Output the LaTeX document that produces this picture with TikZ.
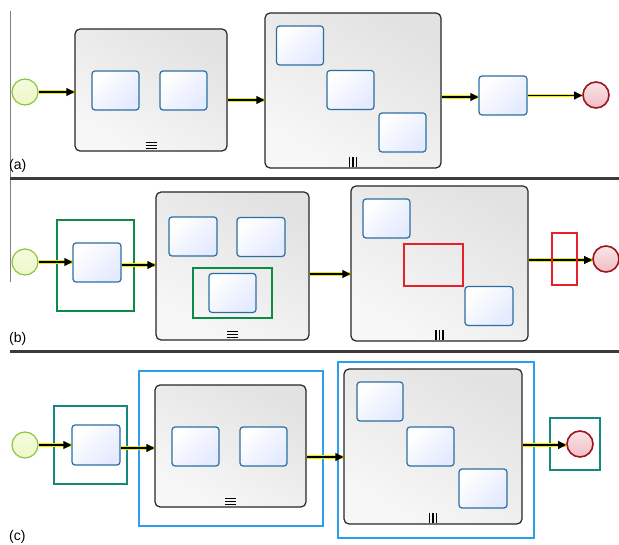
\documentclass[tikz,border=0pt]{standalone}
\usepackage{fontspec}
\setmainfont{Liberation Sans}
\usetikzlibrary{arrows.meta}
\definecolor{taskblue}{RGB}{44,110,160}
\definecolor{taskfill}{RGB}{228,234,255}
\definecolor{subgray}{RGB}{226,226,226}
\definecolor{startgreen}{RGB}{140,198,62}
\definecolor{startfill}{RGB}{238,248,200}
\definecolor{endred}{RGB}{160,20,30}
\definecolor{endfill}{RGB}{240,190,196}
\definecolor{flowyellow}{RGB}{236,236,0}
\definecolor{boxgreen}{RGB}{10,140,70}
\definecolor{boxred}{RGB}{232,32,42}
\definecolor{boxblue}{RGB}{42,160,236}
\definecolor{boxteal}{RGB}{20,136,126}
\definecolor{sepgray}{RGB}{60,60,60}
\newcommand{\seqmark}[1]{\foreach \dy in {3,6,9}{\draw[line width=1.3pt] ([shift={(-5.5,-\dy)}]#1.south) -- ++(11,0);}}
\newcommand{\parmark}[1]{\foreach \dx in {-3.5,0,3.5}{\draw[line width=1.6pt] ([shift={(\dx,-2)}]#1.south) -- ++(0,-10);}}
\tikzset{
  task/.style={draw=taskblue, line width=1.2pt, rounded corners=3pt, top color=white, bottom color=taskfill, shading angle=45, minimum width=47pt, minimum height=39pt, inner sep=0pt},
  subproc/.style={draw=black!85, line width=1.2pt, rounded corners=5pt, top color=subgray, bottom color=white!97!black, shading angle=-30, inner sep=0pt},
  startev/.style={circle, draw=startgreen, line width=1.2pt, top color=startfill!60, bottom color=startfill, minimum size=26pt, inner sep=0pt},
  endev/.style={circle, draw=endred, line width=1.6pt, top color=endfill!40, bottom color=endfill, minimum size=26pt, inner sep=0pt},
  hilite/.style={draw=#1, line width=1.6pt, inner sep=0pt},
  flow/.style={preaction={draw=flowyellow, line width=3.8pt, -}, draw=black, line width=1.2pt, -{Triangle[length=8pt,width=8pt]}},
  sep/.style={draw=sepgray, line width=3pt},
  lbl/.style={anchor=west, inner sep=0pt, font=\fontsize{14}{16}\selectfont}
}
\begin{document}
\begin{tikzpicture}[x=1pt,y=-1pt]
\useasboundingbox (0,0) rectangle (619,545);
\draw[gray, line width=1pt] (10,11) -- (10,179);
\draw[gray, line width=1pt] (10,179) -- (10,282);
\draw[sep] (10,179) -- (619,179);
\draw[sep] (10,352) -- (619,352);
% (a)
\node[startev] (sa) at (25,92) {};
\node[subproc, minimum width=152pt, minimum height=122pt] (suba1) at (151,90) {};
\node[task] (ta1) at (115.5,90.5) {};
\node[task] (ta2) at (183.5,90.5) {};
\seqmark{suba1}
\node[subproc, minimum width=176pt, minimum height=155pt] (suba2) at (353,90.5) {};
\node[task] (ta3) at (300,45.5) {};
\node[task] (ta4) at (350.5,90) {};
\node[task] (ta5) at (402.5,132.5) {};
\parmark{suba2}
\node[task, minimum width=48pt] (taska) at (503,95.5) {};
\node[endev] (ea) at (596,95) {};
\draw[flow] (sa.east) -- (sa.east -| suba1.west);
\draw[flow] ([yshift=-10pt]suba1.east) -- ([yshift=-10pt]suba1.east -| suba2.west);
\draw[flow] ([yshift=-6.5pt]suba2.east) -- ([yshift=-6.5pt]suba2.east -| taska.west);
\draw[flow] (taska.east) -- (taska.east -| ea.west);
\node[lbl] (la) at (9,166) {(a)};
% (b)
\node[startev] (sb) at (25,262) {};
\node[hilite=boxgreen, minimum width=77pt, minimum height=91pt] (gb1) at (95.5,265.5) {};
\node[task, minimum width=48pt] (taskb1) at (97,262.5) {};
\node[subproc, minimum width=153pt, minimum height=148pt] (subb1) at (232.5,266) {};
\node[task, minimum width=48pt] (tb1) at (193,236.5) {};
\node[task, minimum width=48pt] (tb2) at (261,237) {};
\node[hilite=boxgreen, minimum width=79pt, minimum height=50pt] (gb2) at (232.5,293) {};
\node[task] (tb3) at (232.5,293) {};
\seqmark{subb1}
\node[subproc, minimum width=177pt, minimum height=155pt] (subb2) at (439.5,263.5) {};
\node[task] (tb4) at (386.5,218.5) {};
\node[hilite=boxred, minimum width=59pt, minimum height=42pt] (rb1) at (433.5,265) {};
\node[task, minimum width=48pt] (tb5) at (489,306) {};
\parmark{subb2}
\node[endev] (eb) at (606,259) {};
\draw[flow] (sb.east) -- (sb.east -| taskb1.west);
\draw[flow] ([yshift=-2.5pt]taskb1.east) -- ([yshift=-2.5pt]taskb1.east -| subb1.west);
\draw[flow] ([yshift=-8pt]subb1.east) -- ([yshift=-8pt]subb1.east -| subb2.west);
\draw[flow] ([yshift=3.5pt]subb2.east) -- ([yshift=3.5pt]subb2.east -| eb.west);
\node[hilite=boxred, minimum width=25pt, minimum height=52pt] (rb2) at (564.5,259) {};
\node[lbl] (lb) at (9,339) {(b)};
% (c)
\node[startev] (sc) at (25,445) {};
\node[hilite=boxteal, minimum width=73pt, minimum height=78pt] (tc1) at (90.5,445) {};
\node[task, minimum width=48pt, minimum height=40pt] (taskc1) at (96,445) {};
\node[hilite=boxblue, minimum width=184pt, minimum height=155pt] (bc1) at (231,448.5) {};
\node[subproc, minimum width=151pt, minimum height=122pt] (subc1) at (230.5,446) {};
\node[task] (tc3) at (195.5,446.5) {};
\node[task] (tc4) at (263.5,446.5) {};
\seqmark{subc1}
\node[hilite=boxblue, minimum width=196pt, minimum height=176pt] (bc2) at (436,450) {};
\node[subproc, minimum width=178pt, minimum height=155pt] (subc2) at (433,446.5) {};
\node[task, minimum width=46pt] (tc5) at (380,401.5) {};
\node[task] (tc6) at (430.5,446.5) {};
\node[task, minimum width=48pt] (tc7) at (483,488.5) {};
\parmark{subc2}
\node[hilite=boxteal, minimum width=50pt, minimum height=52pt] (tc2) at (575,444) {};
\node[endev] (ec) at (580,444) {};
\draw[flow] (sc.east) -- (sc.east -| taskc1.west);
\draw[flow] ([yshift=-3pt]taskc1.east) -- ([yshift=-3pt]taskc1.east -| subc1.west);
\draw[flow] ([yshift=-11pt]subc1.east) -- ([yshift=-11pt]subc1.east -| subc2.west);
\draw[flow] ([yshift=1.5pt]subc2.east) -- ([yshift=1.5pt]subc2.east -| ec.west);
\node[lbl] (lc) at (9,537) {(c)};
\end{tikzpicture}
\end{document}
